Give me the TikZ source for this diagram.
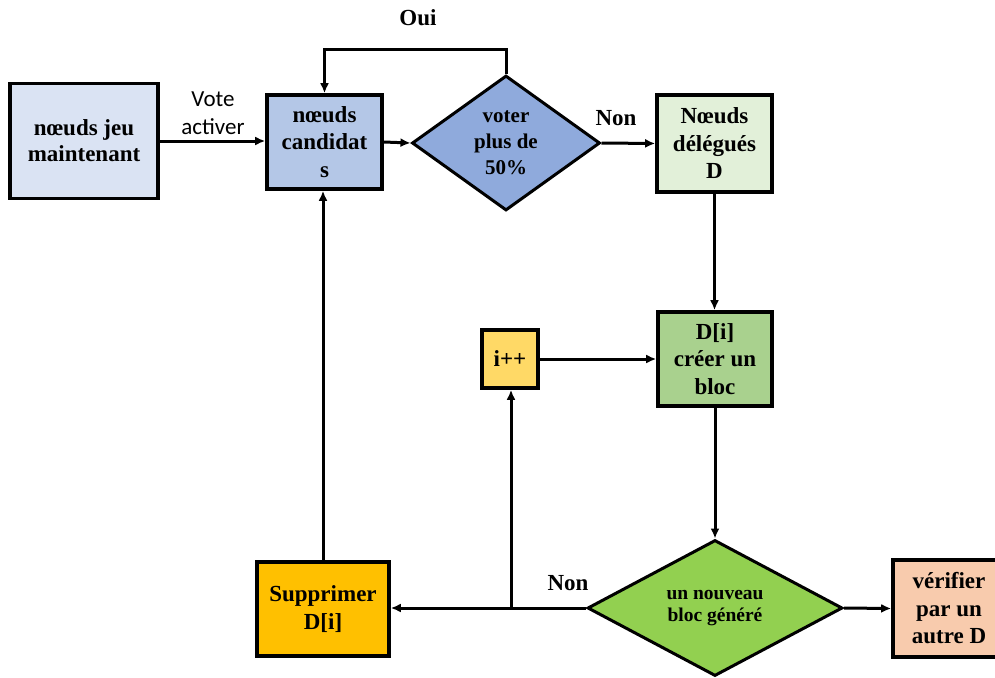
\documentclass[tikz,border=0pt]{standalone}
\usepackage{fontspec}
\setmainfont{Liberation Serif}
\newfontfamily\labelsans{Carlito}
\usetikzlibrary{shapes.geometric,arrows.meta}

\definecolor{cJeu}{HTML}{DAE3F3}
\definecolor{cCand}{HTML}{B4C7E7}
\definecolor{cVote}{HTML}{8FAADC}
\definecolor{cDeleg}{HTML}{E2F0D9}
\definecolor{cCreer}{HTML}{A9D18E}
\definecolor{cIpp}{HTML}{FFD966}
\definecolor{cGen}{HTML}{92D050}
\definecolor{cSupp}{HTML}{FFC000}
\definecolor{cVerif}{HTML}{F8CBAD}

\tikzset{
  box/.style={draw=black, line width=3.6pt, inner sep=0pt, align=center,
    font=\fontsize{23}{27.5}\selectfont\bfseries},
  decision/.style={diamond, draw=black, line width=3pt, inner sep=0pt, align=center},
  conn/.style={line width=3pt, -{Latex[length=10pt,width=9pt]}},
  lbl/.style={inner sep=0pt, align=center, font=\fontsize{23}{27}\selectfont\bfseries},
}

\begin{document}
\begin{tikzpicture}[x=1pt, y=-1pt]
  \useasboundingbox (0,0) rectangle (995,677);

  % process boxes
  \node[box, fill=cJeu, minimum width=148pt, minimum height=115pt,
        font=\fontsize{23}{26}\selectfont\bfseries] (jeu) at (84,141) {nœuds jeu\\maintenant};
  \node[box, fill=cCand, minimum width=115pt, minimum height=94pt] (cand) at (324.5,142) {nœuds\\candidat\\s};
  \node[decision, fill=cVote, minimum width=188pt, minimum height=135pt, aspect=1.39,
        font=\fontsize{21}{26}\selectfont\bfseries] (vote) at (506,143) {voter\\plus de\\50\%};
  \node[box, fill=cDeleg, minimum width=115pt, minimum height=97pt] (deleg) at (714.5,143.5) {Nœuds\\délégués\\D};
  \node[box, fill=cCreer, minimum width=114pt, minimum height=94pt] (creer) at (715,359) {D[i]\\créer un\\bloc};
  \node[box, fill=cIpp, minimum width=56pt, minimum height=58pt] (ipp) at (510,359) {i++};
  \node[decision, fill=cGen, minimum width=255pt, minimum height=136pt, aspect=1.875,
        font=\fontsize{19.5}{22}\selectfont\bfseries] (gen) at (715,608) {un nouveau\\bloc généré};
  \node[box, fill=cSupp, minimum width=132pt, minimum height=94pt] (supp) at (323,609) {Supprimer\\D[i]};
  \node[box, fill=cVerif, minimum width=112pt, minimum height=97pt] (verif) at (949,608.5) {vérifier\\par un\\autre D};

  % connectors
  \draw[conn] (jeu.east) -- (jeu.east -| cand.west);
  \draw[conn] (cand.east) -- (vote.west);
  \draw[conn] (vote.north) -- ++(0,-24.5) -| (cand.north);
  \draw[conn] (vote.east) -- (deleg.west);
  \draw[conn] (deleg.south) -- (deleg.south |- creer.north);
  \draw[conn] (ipp.east) -- (creer.west);
  \draw[conn] (creer.south) -- (gen.north);
  \draw[conn] (gen.west) -- (gen.west -| supp.east);
  \coordinate (split) at (511,608);
  \draw[conn] (split) -- (split |- ipp.south);
  \draw[conn] (supp.north) -- (supp.north |- cand.south);
  \draw[conn] (gen.east) -- (verif.west);

  % connector labels
  \node[lbl] (oui) at (418,18) {Oui};
  \node[inner sep=0pt, align=center, font=\labelsans\fontsize{23}{28}\selectfont] (vote-lbl) at (213,113) {Vote\\activer};
  \node[lbl] (non1) at (616,118) {Non};
  \node[lbl] (non2) at (568,583) {Non};
\end{tikzpicture}
\end{document}
